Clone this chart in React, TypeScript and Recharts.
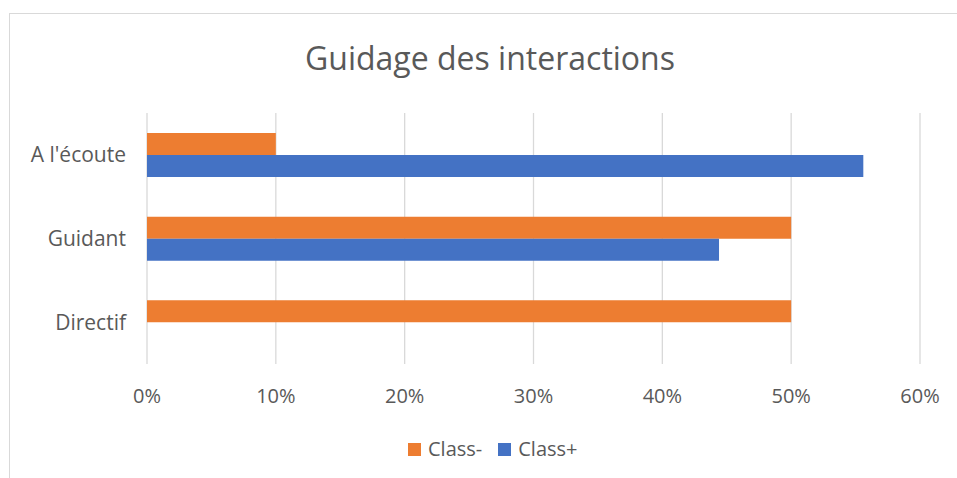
import React from 'react';
import { BarChart, Bar, XAxis, YAxis, CartesianGrid } from 'recharts';

const categories = ["A l'écoute", 'Guidant', 'Directif'];
const classMinus = [0.1, 0.5, 0.5];
const classPlus = [0.556, 0.444, 0];
const xTicks = [0, 0.1, 0.2, 0.3, 0.4, 0.5, 0.6];

const seriesNames = ['Class-', 'Class+'];
const seriesColors = ['#ED7D31', '#4472C4'];

const data = categories.map((name, i) => ({
  name,
  minus: classMinus[i],
  plus: classPlus[i],
}));

const FONT = '"Open Sans", sans-serif';
const TEXT = '#595959';

export default function App() {
  return (
    <div style={{ position: 'absolute', left: 0, top: 0, width: 957, height: 478, background: '#fff', fontFamily: FONT, overflow: 'hidden' }}>
      {/* chart frame, runs off the right/bottom edge like the screenshot */}
      <div style={{ position: 'absolute', left: 9, top: 13, width: 970, height: 480, border: '1px solid #d9d9d9' }} />
      <div style={{ position: 'absolute', left: 0, top: 38, width: 980, textAlign: 'center', fontSize: 32, color: TEXT, lineHeight: '40px' }}>
        Guidage des interactions
      </div>
      <div style={{ position: 'absolute', left: 0, top: 0 }}>
        <BarChart
          width={957}
          height={478}
          data={data}
          layout="vertical"
          margin={{ top: 113, right: 37, bottom: 74, left: 0 }}
          barSize={22}
          barGap={0}
        >
          <CartesianGrid horizontal={false} stroke="#d9d9d9" strokeWidth={1.3} />
          <XAxis
            type="number"
            domain={[0, 0.6]}
            ticks={xTicks}
            tickFormatter={(v: number) => `${Math.round(v * 100)}%`}
            axisLine={false}
            tickLine={false}
            tickSize={0}
            tickMargin={25}
            height={40}
            tick={{ fill: TEXT, fontSize: 20, fontFamily: FONT }}
            interval={0}
          />
          <YAxis
            type="category"
            dataKey="name"
            width={147}
            axisLine={false}
            tickLine={false}
            tickSize={0}
            tickMargin={21}
            tick={{ fill: TEXT, fontSize: 21, fontFamily: FONT }}
          />
          <Bar dataKey="minus" name={seriesNames[0]} fill={seriesColors[0]} isAnimationActive={false} />
          <Bar dataKey="plus" name={seriesNames[1]} fill={seriesColors[1]} isAnimationActive={false} />
        </BarChart>
      </div>
      {/* legend */}
      <div style={{ position: 'absolute', left: 408, top: 437, display: 'flex', alignItems: 'center', fontSize: 20, color: TEXT, lineHeight: '24px' }}>
        {seriesNames.map((n, i) => (
          <div key={n} style={{ display: 'flex', alignItems: 'center', marginRight: 16 }}>
            <span style={{ display: 'inline-block', width: 13, height: 13, background: seriesColors[i], marginRight: 7 }} />
            <span>{n}</span>
          </div>
        ))}
      </div>
    </div>
  );
}
